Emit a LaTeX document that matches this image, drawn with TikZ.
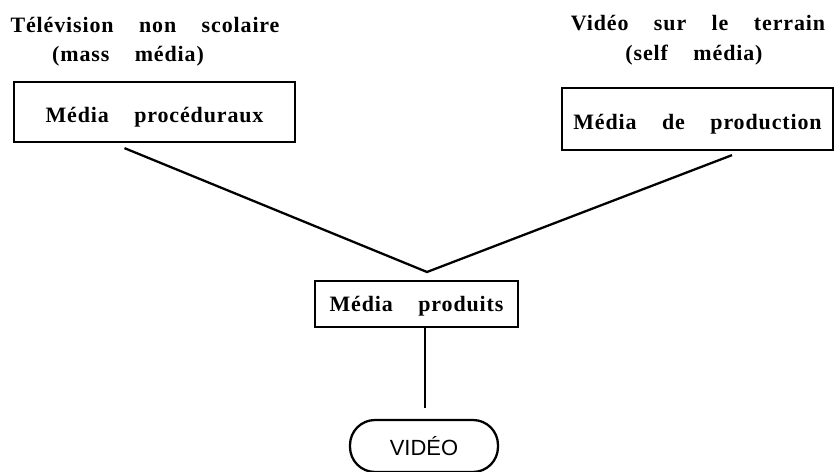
\documentclass[tikz,border=0pt]{standalone}
\usepackage{fontspec}
\setmainfont[LetterSpace=4,WordSpace=4]{Liberation Serif}
\setsansfont{Liberation Sans}
\tikzset{
  mediabox/.style={draw,line width=1.3pt,fill=white,text height=1.5em,text depth=0.25em},
  pill/.style={draw,line width=1.3pt,rounded corners=0.5cm,minimum width=2.96cm,minimum height=1.04cm}
}
\begin{document}
\begin{tikzpicture}[x=0.02cm,y=-0.02cm,font=\fontsize{12.5}{15}\selectfont\bfseries]
        \useasboundingbox (0,0) rectangle (835,472);
        %% Captions
        \node (tele)  at (145,25) {Télévision non scolaire};
        \node (mass)  at (128,56) {(mass média)};
        \node (video) at (698,23) {Vidéo sur le terrain};
        \node (self)  at (694,55) {(self média)};
        %% Blocks
        \node[mediabox,minimum width=5.62cm,minimum height=1.2cm] (proc) at (154.5,112) {Média procéduraux};
        \node[mediabox,minimum width=5.42cm,minimum height=1.24cm] (prod) at (697.5,119) {Média de production};
        \node[mediabox,minimum width=4.06cm,minimum height=0.92cm,text height=1.1em] (prdt) at (416.5,304) {Média produits};
        \node[pill] (vid) at (424,446) {\sffamily\mdseries VIDÉO};
        %% Lines
        \coordinate (apex) at (427,272);
        \draw[line width=1.3pt] ([shift={(-30,5)}]proc.south) -- (apex) -- ([shift={(34.5,4)}]prod.south);
        \draw[line width=1.3pt] ([xshift=0.17cm]prdt.south) -- ++(0,80) coordinate (vtop);
    \end{tikzpicture}
\end{document}
